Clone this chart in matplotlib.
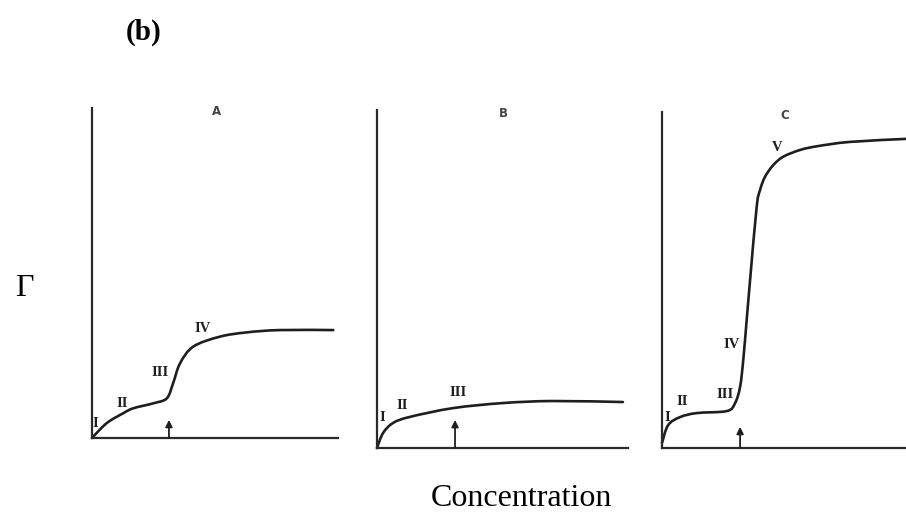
import matplotlib as mpl
mpl.use('Agg')
import matplotlib.pyplot as plt
import numpy as np
from matplotlib.path import Path
from matplotlib.patches import PathPatch

# curves (x: concentration 0-10 along the axis, y: Gamma 0-10 up the axis)
a_x = [0.0, 0.60, 1.27, 1.68, 2.49, 3.04, 3.30, 3.58, 4.12, 5.20, 6.29, 7.64, 9.81]
a_y = [0.0, 0.45, 0.75, 0.90, 1.05, 1.20, 1.66, 2.26, 2.77, 3.07, 3.20, 3.27, 3.27]

b_x = [0.0, 0.24, 0.64, 1.31, 3.03, 5.02, 7.01, 9.80]
b_y = [0.0, 0.44, 0.74, 0.92, 1.18, 1.33, 1.39, 1.36]

c_x = [0.0, 0.25, 0.74, 1.43, 2.66, 2.99, 3.20, 3.33, 3.47, 3.61, 3.88, 4.02,
       4.22, 4.56, 4.97, 5.66, 6.35, 7.70, 10.0]
c_y = [0.15, 0.68, 0.92, 1.04, 1.10, 1.33, 1.82, 2.62, 3.81, 5.00, 7.18, 7.68,
       8.07, 8.42, 8.67, 8.87, 8.98, 9.11, 9.20]

# arrow (cmc) positions and heights
arrow_x = [3.13, 3.11, 3.20]
arrow_top = [0.55, 0.83, 0.63]

# region labels
a_labels = ['I', 'II', 'III', 'IV']
a_lx = [0.12, 1.25, 2.76, 4.51]
a_ly = [0.45, 1.06, 1.97, 3.33]
b_labels = ['I', 'II', 'III']
b_lx = [0.20, 1.00, 3.23]
b_ly = [0.89, 1.27, 1.63]
c_labels = ['I', 'II', 'III', 'IV', 'V']
c_lx = [0.20, 0.82, 2.58, 2.87, 4.71]
c_ly = [0.92, 1.37, 1.58, 3.07, 8.93]

titles = ['A', 'B', 'C']

ink = '#1e1e1e'


def smooth_path(xs, ys):
    # Catmull-Rom through the read points, drawn as cubic Bezier segments
    p = np.column_stack([xs, ys])
    verts = [p[0]]
    codes = [Path.MOVETO]
    n = len(p)
    for i in range(n - 1):
        p0 = p[i - 1] if i > 0 else p[i]
        p3 = p[i + 2] if i + 2 < n else p[i + 1]
        c1 = p[i] + (p[i + 1] - p0) / 6.0
        c2 = p[i + 1] - (p3 - p[i]) / 6.0
        verts += [c1, c2, p[i + 1]]
        codes += [Path.CURVE4] * 3
    return Path(verts, codes)


fig = plt.figure(figsize=(9.06, 5.14), dpi=100)

# panel rectangles (figure fraction)
boxes = [[0.1015, 0.1479, 0.2715, 0.6420],
         [0.4161, 0.1284, 0.2770, 0.6576],
         [0.7307, 0.1284, 0.2693, 0.6537]]

curves = [(a_x, a_y), (b_x, b_y), (c_x, c_y)]
labels = [(a_labels, a_lx, a_ly), (b_labels, b_lx, b_ly), (c_labels, c_lx, c_ly)]

for k in range(3):
    ax = fig.add_axes(boxes[k])
    ax.set_xlim(0, 10)
    ax.set_ylim(0, 10)
    for s in ['top', 'right']:
        ax.spines[s].set_visible(False)
    for s in ['left', 'bottom']:
        ax.spines[s].set_linewidth(1.6)
        ax.spines[s].set_color('#2a2a2a')
    ax.set_xticks([])
    ax.set_yticks([])
    ax.patch.set_alpha(0)

    xs, ys = curves[k]
    ax.add_patch(PathPatch(smooth_path(xs, ys), fill=False, lw=1.9,
                           edgecolor=ink, capstyle='round', clip_on=False))

    ax.annotate('', xy=(arrow_x[k], arrow_top[k]), xytext=(arrow_x[k], 0),
                arrowprops=dict(arrowstyle='-|>', lw=1.3, color=ink,
                                mutation_scale=10, shrinkA=0, shrinkB=0))

    names, lx, ly = labels[k]
    for t, x, y in zip(names, lx, ly):
        ax.text(x, y, t, family='Liberation Serif', fontweight='bold',
                fontsize=10.5, color=ink, ha='center', va='center')

    ax.text(5.05, 9.9, titles[k], fontsize=8.5, fontweight='bold',
            color='#444444', ha='center', va='center')

fig.text(144 / 906, 1 - 32 / 514, '(b)', family='Liberation Serif',
         fontweight='bold', fontsize=21, ha='center', va='center')
fig.text(24 / 906, 1 - 289 / 514, 'Γ', family='Liberation Serif',
         fontsize=23, ha='center', va='center')
fig.text(521 / 906, 1 - 506 / 514, 'Concentration', family='Liberation Serif',
         fontsize=23, ha='center', va='baseline')

fig.savefig('out.png', dpi=100)
